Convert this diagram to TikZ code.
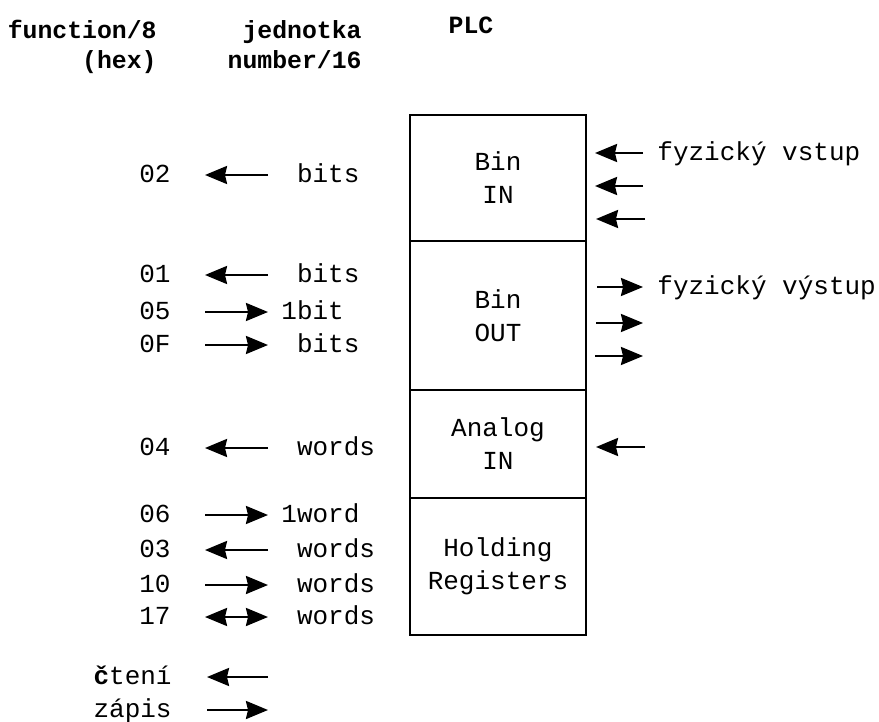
\documentclass[tikz,border=0pt]{standalone}
\usepackage{fontspec}
\setmonofont{Liberation Mono}
\usetikzlibrary{positioning,arrows.meta}

\begin{document}
\begin{tikzpicture}[x=0.5pt,y=-0.5pt,font=\ttfamily\fontsize{13}{15}\selectfont]
\tikzset{
  SEC/.style={draw,line width=1.1pt,minimum width=88pt,outer sep=0pt,inner sep=0pt,align=center,font=\ttfamily\fontsize{13}{16.5}\selectfont},
  CD/.style={anchor=east,inner xsep=17pt,inner ysep=0pt,text height=7.8pt,text depth=0pt},
  UN/.style={anchor=west,inner xsep=6.5pt,inner ysep=0pt,text height=7.8pt,text depth=0pt},
  PH/.style={anchor=west,inner xsep=7pt,inner ysep=0pt,text height=7.8pt,text depth=0pt},
  HD/.style={font=\ttfamily\bfseries\fontsize{12.4}{15}\selectfont,align=right,inner sep=0pt},
  AR/.style={-{Stealth[length=11pt,width=9pt,inset=1pt]},line width=1.2pt},
  BA/.style={{Stealth[length=11pt,width=9pt,inset=1pt]}-{Stealth[length=11pt,width=9pt,inset=1pt]},line width=1.2pt},
}
\useasboundingbox (0,0) rectangle (879,722);

% headers
\node[HD,anchor=north east](hfun) at (157,20){function/8\\(hex)};
\node[HD,anchor=north east](hunit) at (362,20){jednotka\\number/16};
\node[HD,anchor=base](hplc) at (471,34){PLC};

% PLC memory areas
\node[SEC,minimum height=63pt](binin) at (498,178){Bin\\IN};
\node[SEC,minimum height=74.5pt,below=0pt of binin](binout){Bin\\OUT};
\node[SEC,minimum height=54pt,below=0pt of binout](anain){Analog\\IN};
\node[SEC,minimum height=68.5pt,below=0pt of anain](holding){Holding\\Registers};

% function codes and units
\node[CD](c02) at (205,175){02};
\node[UN](u02) at (268,175){\phantom{1}bits};
\node[CD](c01) at (205,275){01};
\node[UN](u01) at (268,275){\phantom{1}bits};
\node[CD](c05) at (205,312){05};
\node[UN](u05) at (268,312){1bit};
\node[CD](c0F) at (205,345){0F};
\node[UN](u0F) at (268,345){\phantom{1}bits};
\node[CD](c04) at (205,448){04};
\node[UN](u04) at (268,448){\phantom{1}words};
\node[CD](c06) at (205,515){06};
\node[UN](u06) at (268,515){1word};
\node[CD](c03) at (205,550){03};
\node[UN](u03) at (268,550){\phantom{1}words};
\node[CD](c10) at (205,585){10};
\node[UN](u10) at (268,585){\phantom{1}words};
\node[CD](c17) at (205,617){17};
\node[UN](u17) at (268,617){\phantom{1}words};

\draw[AR](u02)--(c02);
\draw[AR](u01)--(c01);
\draw[AR](c05)--(u05);
\draw[AR](c0F)--(u0F);
\draw[AR](u04)--(c04);
\draw[AR](c06)--(u06);
\draw[AR](u03)--(c03);
\draw[AR](c10)--(u10);
\draw[BA](c17)--(u17);

% physical side
\node[PH](vstup) at (643,153){fyzický vstup};
\coordinate(in2) at (643,186);
\coordinate(in3) at (645,219);
\node[PH](vystup) at (643,287){fyzický výstup};
\coordinate(out2) at (643,323);
\coordinate(out3) at (643,356);
\coordinate(ain) at (645,447);

\draw[AR,shorten >=4.5pt](vstup.west)--(binin.east |- vstup);
\draw[AR,shorten >=4.5pt](in2)--(binin.east |- in2);
\draw[AR,shorten >=5pt](in3)--(binin.east |- in3);
\draw[AR,shorten <=5.5pt](binout.east |- vystup)--(vystup.west);
\draw[AR,shorten <=5pt](binout.east |- out2)--(out2);
\draw[AR,shorten <=4.5pt](binout.east |- out3)--(out3);
\draw[AR,shorten >=5pt](ain)--(anain.east |- ain);

% legend
\node[CD,inner xsep=17.5pt](cteni) at (207,677){{\bfseries č}tení};
\coordinate(lr) at (268,677);
\node[CD,inner xsep=17.5pt](zapis) at (207,710){zápis};
\coordinate(lw) at (268,710);
\draw[AR](lr)--(cteni);
\draw[AR](zapis)--(lw);

\end{tikzpicture}
\end{document}
